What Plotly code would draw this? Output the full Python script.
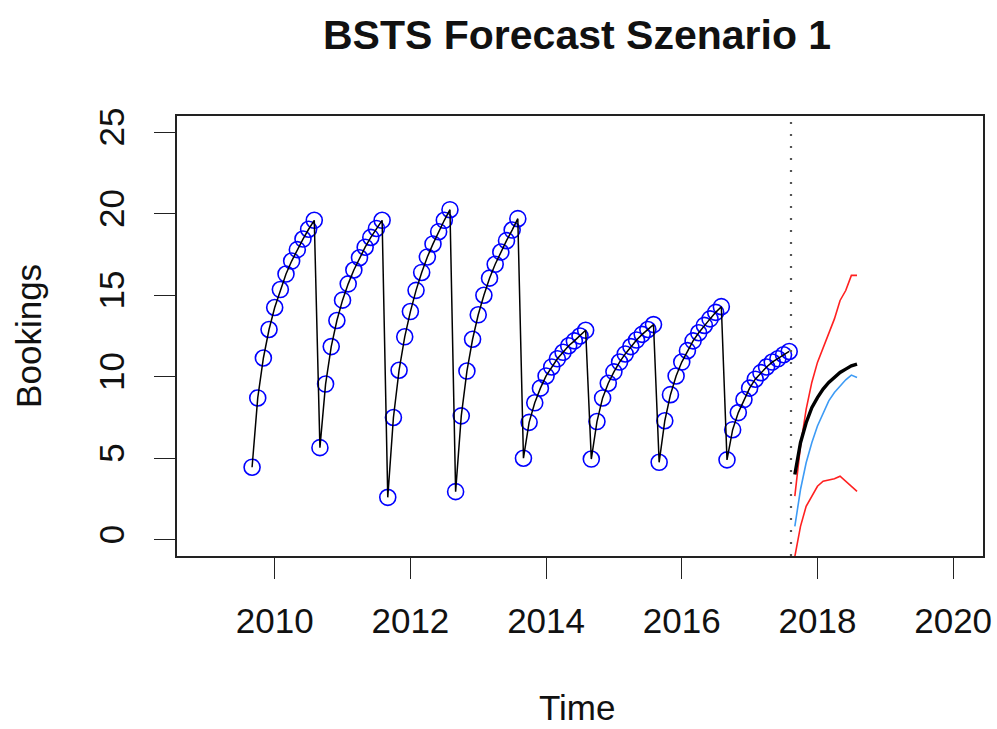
import plotly.graph_objects as go

# ---- data ----
start_year = 2009
start_month = 9  # September
bookings = [
    4.45, 8.7, 11.15, 12.9, 14.25, 15.35, 16.3, 17.1, 17.8, 18.45, 19.05, 19.6,
    5.65, 9.55, 11.85, 13.45, 14.7, 15.7, 16.55, 17.3, 17.95, 18.55, 19.1, 19.6,
    2.6, 7.5, 10.4, 12.45, 14.0, 15.3, 16.4, 17.35, 18.15, 18.9, 19.6, 20.25,
    2.95, 7.6, 10.35, 12.3, 13.8, 15.0, 16.05, 16.9, 17.65, 18.35, 19.0, 19.7,
    5.0, 7.2, 8.4, 9.3, 10.05, 10.6, 11.1, 11.5, 11.9, 12.2, 12.5, 12.85,
    4.95, 7.25, 8.7, 9.6, 10.3, 10.9, 11.4, 11.85, 12.25, 12.6, 12.9, 13.2,
    4.75, 7.3, 8.9, 10.05, 10.9, 11.6, 12.2, 12.7, 13.15, 13.55, 13.95, 14.3,
    4.9, 6.75, 7.8, 8.6, 9.3, 9.85, 10.25, 10.6, 10.9, 11.1, 11.35, 11.55,
]
forecast_median = [4.0, 5.95, 7.18, 8.1, 8.72, 9.24, 9.65, 9.96, 10.26, 10.47, 10.67, 10.78]
forecast_mean = [0.82, 3.08, 4.72, 5.95, 6.98, 7.8, 8.52, 9.03, 9.44, 9.81, 10.1, 9.96]
forecast_upper = [2.67, 5.75, 8.0, 9.65, 10.88, 11.8, 12.73, 13.55, 14.68, 15.29, 16.22, 16.22]
forecast_lower = [-1.03, 0.82, 2.05, 2.67, 3.28, 3.59, 3.65, 3.74, 3.9, 3.59, 3.28, 2.97]
cutoff_time = 2017.61
x_ticks = [2010, 2012, 2014, 2016, 2018, 2020]
y_ticks = [0, 5, 10, 15, 20, 25]

times = [start_year + (start_month - 1 + i) / 12 for i in range(len(bookings))]
last_t = times[-1]
f_times = [last_t + (i + 1) / 12 for i in range(len(forecast_median))]

FONT = "Liberation Sans, Arial, Helvetica, sans-serif"

fig = go.Figure()
fig.add_trace(go.Scatter(x=times, y=bookings, mode="markers",
                         marker=dict(symbol="circle-open", size=16, color="#0000FF",
                                     line=dict(width=1.6, color="#0000FF")),
                         hoverinfo="skip"))
fig.add_trace(go.Scatter(x=times, y=bookings, mode="lines",
                         line=dict(color="black", width=1.5)))
fig.add_trace(go.Scatter(x=f_times, y=forecast_upper, mode="lines",
                         line=dict(color="#FF2020", width=1.6)))
fig.add_trace(go.Scatter(x=f_times, y=forecast_lower, mode="lines",
                         line=dict(color="#FF2020", width=1.6)))
fig.add_trace(go.Scatter(x=f_times, y=forecast_mean, mode="lines",
                         line=dict(color="#3D9BF5", width=1.6)))
fig.add_trace(go.Scatter(x=f_times, y=forecast_median, mode="lines",
                         line=dict(color="black", width=3.4)))

fig.add_shape(type="line", xref="x", yref="paper", x0=cutoff_time, x1=cutoff_time,
              y0=0, y1=1, line=dict(color="#555555", width=2.2, dash="2px,10px"))

axis_common = dict(showgrid=False, zeroline=False, showline=True, mirror=True,
                   linecolor="#222222", linewidth=1.5, ticks="outside", ticklen=21,
                   tickwidth=1.3, tickcolor="#222222", ticklabeloverflow="allow",
                   automargin=False,
                   tickfont=dict(family=FONT, size=35, color="#111111"))

fig.update_xaxes(range=[2008.56, 2020.44], tickvals=x_ticks, ticklabelstandoff=12,
                 **axis_common)
fig.update_yaxes(range=[-1, 26], tickvals=y_ticks, tickangle=-90, ticklabelstandoff=16,
                 **axis_common)

fig.update_layout(
    width=997, height=729,
    margin=dict(l=177, r=14, t=116, b=173, pad=0, autoexpand=False),
    plot_bgcolor="white", paper_bgcolor="white",
    showlegend=False,
    font=dict(family=FONT, color="#111111"),
    annotations=[
        dict(text="<b>BSTS Forecast Szenario 1</b>", xref="paper", yref="paper",
             x=0.496, y=1.184, xanchor="center", yanchor="middle", showarrow=False,
             font=dict(family=FONT, size=41, color="#111111")),
        dict(text="Time", xref="paper", yref="paper", x=0.496, y=-0.345,
             xanchor="center", yanchor="middle", showarrow=False,
             font=dict(family=FONT, size=35, color="#111111")),
        dict(text="Bookings", xref="paper", yref="paper", x=-0.185, y=0.5,
             xanchor="center", yanchor="middle", showarrow=False, textangle=-90,
             font=dict(family=FONT, size=35, color="#111111")),
    ],
)

fig.write_html("out.html", config={"displayModeBar": False},
               post_script="document.body.style.margin='0';document.body.style.overflow='hidden';")
